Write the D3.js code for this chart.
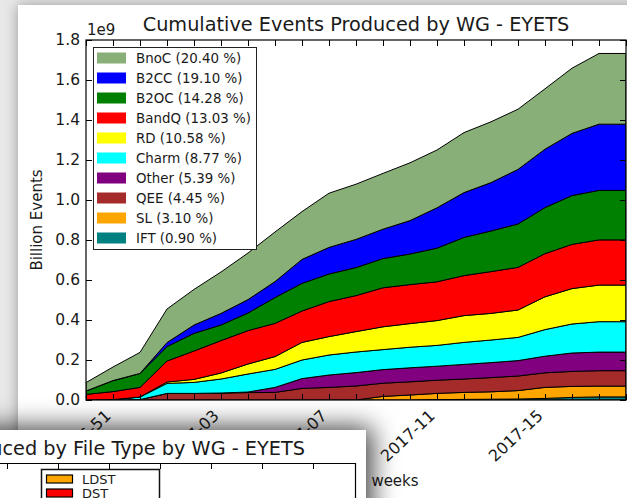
<!DOCTYPE html>
<html><head><meta charset="utf-8">
<script src="https://cdn.jsdelivr.net/npm/d3@7"></script>
<style>
body{margin:0;background:#e8e8e8;overflow:hidden}
text{font-family:"DejaVu Sans",sans-serif;fill:#1a1a1a}
</style>
</head><body>
<svg id="c" width="627" height="498"></svg>
<script>
// ---------- data (values in units of 1e9 events, cumulative per WG) ----------
const weeks = ["2016-50","2016-51","2016-52","2017-01","2017-02","2017-03","2017-04","2017-05","2017-06","2017-07",
  "2017-08","2017-09","2017-10","2017-11","2017-12","2017-13","2017-14","2017-15","2017-16","2017-17","2017-18"];
const labelWeeks = ["2016-51","2017-03","2017-07","2017-11","2017-15"];
const yTicks = [0,0.2,0.4,0.6,0.8,1.0,1.2,1.4,1.6,1.8];

const IFT   = [0,0,0,0,0,0,0,0,0,0,0,0,0,0.002,0.003,0.004,0.005,0.008,0.013,0.0156,0.0156];
const SL    = [0,0,0,0,0,0,0,0,0,0,0,0.018,0.025,0.031,0.035,0.037,0.042,0.055,0.055,0.054,0.054];
const QEE   = [0,0,0.002,0.033,0.033,0.035,0.037,0.038,0.058,0.063,0.070,0.066,0.066,0.066,0.067,0.071,0.073,0.073,0.075,0.077,0.077];
const Other = [0,0,0,0,0,0,0.003,0.025,0.049,0.062,0.067,0.068,0.070,0.070,0.073,0.075,0.077,0.083,0.092,0.093,0.093];
const Charm = [0,0.002,0.013,0.050,0.055,0.070,0.090,0.090,0.093,0.100,0.103,0.100,0.103,0.104,0.110,0.113,0.116,0.133,0.145,0.152,0.152];
const RD    = [0,0,0,0.007,0.015,0.030,0.050,0.064,0.088,0.092,0.102,0.114,0.118,0.124,0.134,0.133,0.137,0.164,0.177,0.183,0.183];
const BandQ = [0.028,0.040,0.048,0.105,0.142,0.162,0.167,0.166,0.157,0.175,0.180,0.195,0.195,0.194,0.200,0.209,0.213,0.216,0.221,0.226,0.226];
const B2OC  = [0.017,0.055,0.070,0.072,0.088,0.078,0.088,0.129,0.138,0.138,0.140,0.146,0.153,0.168,0.191,0.203,0.217,0.230,0.244,0.2475,0.2475];
const B2CC  = [0,0,0,0.020,0.042,0.058,0.067,0.080,0.120,0.133,0.141,0.147,0.167,0.202,0.224,0.242,0.273,0.292,0.311,0.331,0.331];
const BnoC  = [0.042,0.068,0.105,0.168,0.178,0.207,0.233,0.248,0.239,0.271,0.276,0.279,0.289,0.289,0.300,0.304,0.301,0.302,0.326,0.3535,0.3535];

// stacking order bottom -> top
const groups  = ["IFT","SL","QEE","Other","Charm","RD","BandQ","B2OC","B2CC","BnoC"];
const values  = {IFT,SL,QEE,Other,Charm,RD,BandQ,B2OC,B2CC,BnoC};
const colors  = ["#008080","#FFA500","#A52A2A","#800080","#00FFFF","#FFFF00","#FF0000","#008000","#0000FF","#89AF78"];
const percents = ["0.90","3.10","4.45","5.39","8.77","10.58","13.03","14.28","19.10","20.40"];

const fileTypes = ["LDST","DST"];
const fileTypeColors = ["#FFA500","#FF0000"];

// ---------- drawing ----------
const svg = d3.select("#c");
const defs = svg.append("defs");
const f1 = defs.append("filter").attr("id","sh1").attr("x","-20%").attr("y","-20%").attr("width","140%").attr("height","140%");
f1.append("feDropShadow").attr("dx",0).attr("dy",0).attr("stdDeviation",7).attr("flood-color","#000").attr("flood-opacity",0.35);
const f2 = defs.append("filter").attr("id","sh2").attr("x","-30%").attr("y","-50%").attr("width","160%").attr("height","200%");
f2.append("feDropShadow").attr("dx",6).attr("dy",-3).attr("stdDeviation",13).attr("flood-color","#000").attr("flood-opacity",0.75);

// main window
svg.append("rect").attr("x",18).attr("y",5).attr("width",700).attr("height",600).attr("fill","#fff").attr("filter","url(#sh1)");

const x = d3.scalePoint().domain(weeks).range([86,626]);
const y = d3.scaleLinear().domain([0,1.8]).range([400,40]);

defs.append("clipPath").attr("id","plot").append("rect").attr("x",86).attr("y",40).attr("width",540).attr("height",360);

const table = weeks.map((w,i)=>{const o={week:w}; groups.forEach(g=>o[g]=values[g][i]); return o;});
const stack = d3.stack().keys(groups)(table);
const area = d3.area().x(d=>x(d.data.week)).y0(d=>y(d[0])).y1(d=>y(d[1]));

svg.append("g").attr("clip-path","url(#plot)")
  .selectAll("path").data(stack).join("path")
  .attr("d",area).attr("fill",(d,i)=>colors[i])
  .attr("stroke","#000").attr("stroke-width",1).attr("stroke-linejoin","round");

// axes (inward ticks)
const gl = svg.append("g").attr("transform","translate(86,0)")
  .call(d3.axisLeft(y).tickValues(yTicks).tickFormat(d3.format(".1f")).tickSizeInner(-6).tickSizeOuter(0).tickPadding(6));
const gr = svg.append("g").attr("transform","translate(626,0)")
  .call(d3.axisRight(y).tickValues(yTicks).tickFormat("").tickSizeInner(-6).tickSizeOuter(0));
const gt = svg.append("g").attr("transform","translate(0,40)")
  .call(d3.axisTop(x).tickFormat("").tickSizeInner(-6).tickSizeOuter(0));
const gb = svg.append("g").attr("transform","translate(0,400)")
  .call(d3.axisBottom(x).tickFormat("").tickSizeInner(-6).tickSizeOuter(0));
[gl,gr,gt,gb].forEach(g=>{g.select(".domain").remove(); g.selectAll(".tick line").attr("stroke","#000");});
gl.selectAll(".tick text").attr("font-size","15.5px").attr("fill","#1a1a1a").attr("font-family","DejaVu Sans");

svg.append("rect").attr("x",86).attr("y",40).attr("width",540).attr("height",360)
  .attr("fill","none").attr("stroke","#000").attr("stroke-width",1.2);

// x tick labels rotated
svg.append("g").selectAll("text").data(labelWeeks).join("text")
  .attr("transform",d=>`translate(${x(d)-1},${417}) rotate(-43)`)
  .attr("text-anchor","end").attr("font-size","16px").text(d=>d);

svg.append("text").attr("x",356).attr("y",31).attr("text-anchor","middle").attr("font-size","19.3px")
  .text("Cumulative Events Produced by WG - EYETS");
svg.append("text").attr("x",87).attr("y",35).attr("font-size","15px").text("1e9");
svg.append("text").attr("transform","translate(42,220) rotate(-90)").attr("text-anchor","middle")
  .attr("font-size","15px").text("Billion Events");
svg.append("text").attr("x",395).attr("y",486).attr("text-anchor","middle").attr("font-size","15px").text("weeks");

// legend (top -> bottom reversed)
const lg = svg.append("g");
lg.append("rect").attr("x",93.5).attr("y",47.5).attr("width",163).attr("height",202)
  .attr("fill","#fff").attr("stroke","#222").attr("stroke-width",1);
const order = groups.map((g,i)=>i).reverse();
const ly = d3.scaleBand().domain(order).range([48,248]);
const rows = lg.selectAll("g.row").data(order).join("g").attr("class","row")
  .attr("transform",d=>`translate(0,${ly(d)+ly.bandwidth()/2})`);
rows.append("rect").attr("x",97).attr("y",-5.5).attr("width",29).attr("height",11).attr("fill",d=>colors[d]);
rows.append("text").attr("x",136).attr("y",0).attr("dy","0.36em").attr("font-size","13.4px")
  .text(d=>`${groups[d]} (${percents[d]} %)`);

// second overlapping window
const w2 = svg.append("g");
w2.append("rect").attr("x",-60).attr("y",430).attr("width",426).attr("height",200).attr("fill","#fff").attr("filter","url(#sh2)");
w2.append("text").attr("x",305).attr("y",455).attr("text-anchor","end").attr("font-size","19.3px")
  .text("Cumulative Events Produced by File Type by WG - EYETS");
const x2 = d3.scaleLinear().domain([0,6]).range([7,313]);
w2.append("path").attr("d","M-5,463.5H355.5V510").attr("fill","none").attr("stroke","#000").attr("stroke-width",1.2);
const gt2 = w2.append("g").attr("transform","translate(0,463)")
  .call(d3.axisTop(x2).ticks(6).tickFormat("").tickSizeInner(-6).tickSizeOuter(0));
gt2.select(".domain").remove(); gt2.selectAll(".tick line").attr("stroke","#000");
w2.append("rect").attr("x",41.5).attr("y",469.5).attr("width",118).attr("height",60)
  .attr("fill","#fff").attr("stroke","#111").attr("stroke-width",1.5);
const ly2 = d3.scaleBand().domain(fileTypes).range([472,500]);
const r2 = w2.selectAll("g.r2").data(fileTypes).join("g").attr("class","r2")
  .attr("transform",d=>`translate(0,${ly2(d)+ly2.bandwidth()/2})`);
r2.append("rect").attr("x",46.5).attr("y",-4).attr("width",26).attr("height",8)
  .attr("fill",(d,i)=>fileTypeColors[i]).attr("stroke","#000").attr("stroke-width",1.2);
r2.append("text").attr("x",82).attr("y",0).attr("dy","0.36em").attr("font-size","13px").text(d=>d);
</script>
</body></html>
